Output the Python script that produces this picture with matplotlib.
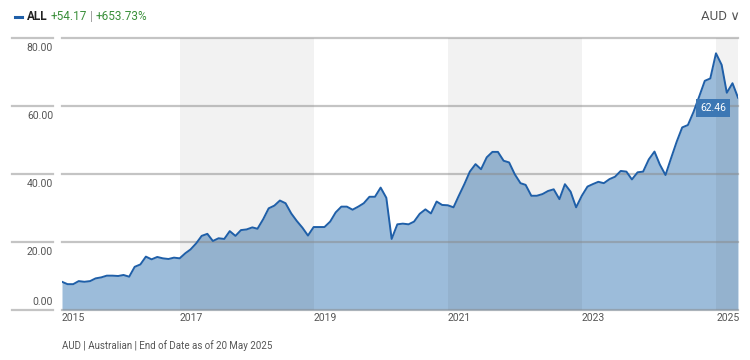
import numpy as np
import pandas as pd
import matplotlib.pyplot as plt

plt.rcParams['font.family'] = ['Roboto', 'DejaVu Sans']

# month-end values, Mar 2015 .. Apr 2025
values = [
    8.3, 7.6, 7.6, 8.5, 8.3, 8.5, 9.3, 9.6, 10.1, 10.1, 10.0, 10.3,
    9.8, 12.7, 13.4, 15.7, 14.9, 15.6, 15.2, 15.0, 15.4, 15.2,
    16.7, 17.8, 19.6, 21.8, 22.4, 20.3, 21.1, 20.9, 23.2, 21.8, 23.5, 23.7,
    24.3, 23.9, 26.7, 29.9, 30.7, 32.2, 31.4, 28.4, 26.2,
    24.2, 21.9, 24.4, 24.4, 24.4, 26.0, 28.7, 30.4, 30.4, 29.5, 30.4, 31.4,
    33.3, 33.3, 36.0, 33.0, 20.9, 25.2, 25.4, 25.2, 26.0, 28.3,
    29.6, 28.4, 31.9, 30.9, 30.8, 30.2, 33.5, 37.0, 40.7, 42.9, 41.4, 44.9,
    46.5, 46.5, 43.9, 43.4, 39.9, 37.3, 36.8, 33.6, 33.6,
    34.1, 35.0, 35.5, 32.6, 37.0, 34.8, 30.2, 33.6, 36.3, 37.0, 37.7, 37.3,
    38.5, 39.2, 40.9, 40.7, 38.4, 40.5, 40.7, 44.3, 46.6, 42.8,
    39.7, 44.6, 49.5, 53.7, 54.4, 58.3, 62.7, 67.4, 68.1, 75.5, 72.1, 63.9,
    66.7, 62.46,
]
dates = pd.date_range('2015-03-31', periods=len(values), freq='ME')

y_ticks = [0, 20, 40, 60, 80]
y_labels = ['0.00', '20.00', '40.00', '60.00', '80.00']
year_labels = ['2015', '2017', '2019', '2021', '2023', '2025']
shade_spans = [('2017-01-01', '2019-01-01'), ('2021-01-01', '2023-01-01'), ('2025-01-01', None)]
header = [('ALL', '#222222', 'bold'), ('+54.17', '#3a8f3a', 'normal'),
          ('|', '#999999', 'normal'), ('+653.73%', '#3a8f3a', 'normal')]

line_col = '#1f5fa8'
fill_col = '#9cbcda'
grid_col = '#c4c4c4'
text_col = '#555555'

fig = plt.figure(figsize=(7.5, 3.6), dpi=100)
ax = fig.add_axes([62 / 750, 1 - 310 / 360, 676 / 750, 272 / 360])

x0, x1 = dates[0], dates[-1]
ax.set_xlim(x0, x1)
ax.set_ylim(0, 80)

ax.fill_between(dates, values, 0, color=fill_col, lw=0, zorder=1)
for a, b in shade_spans:
    b = x1 if b is None else pd.Timestamp(b)
    ax.axvspan(pd.Timestamp(a), b, color='black', alpha=0.052, lw=0, zorder=2)
for v in y_ticks:
    ax.axhline(v, color='#8a8a8a', alpha=0.5, lw=1.6, zorder=3, clip_on=False)
    ax.plot([-50 / 676, -9 / 676], [v, v], transform=ax.get_yaxis_transform(),
            color=grid_col, lw=1.6, clip_on=False)
ax.plot(dates, values, color=line_col, lw=1.4, zorder=4)

for v, lab in zip(y_ticks, y_labels):
    off = 6 if v == 0 else -7
    ax.annotate(lab, (-9 / 676, v), xycoords=ax.get_yaxis_transform(),
                xytext=(0, off), textcoords='offset points', ha='right', va='center',
                fontsize=7.5, color=text_col)

for lab in year_labels:
    xp = x0 if lab == '2015' else pd.Timestamp(lab + '-01-01')
    ax.annotate(lab, (xp, 0), xytext=(0, -6), textcoords='offset points',
                ha='left', va='center', fontsize=7.5, color=text_col,
                annotation_clip=False)

# last value tag
ax.annotate(f'{values[-1]:.2f}', (x1, values[-1]), xytext=(-18, -7.5), textcoords='offset points',
            ha='center', va='center', fontsize=7.5, color='white', zorder=6,
            bbox=dict(boxstyle='square,pad=0.35', fc='#3c77b4', ec='none'))

ax.set_xticks([])
ax.set_yticks([])
for s in ax.spines.values():
    s.set_visible(False)

# header, pieces chained left to right
fig.add_artist(plt.Line2D([15 / 750, 22 / 750], [1 - 17 / 360] * 2, color=line_col, lw=2.2))
renderer = fig.canvas.get_renderer()
xpix = 27
for txt, col, wt in header:
    t = fig.text(xpix / 750, 1 - 17 / 360, txt, fontsize=8.5, color=col, va='center', weight=wt)
    xpix = t.get_window_extent(renderer).x1 + 3
fig.text(740 / 750, 1 - 16 / 360, 'AUD \u2228', fontsize=9.5, color=text_col, va='center', ha='right')

fig.text(62 / 750, 1 - 346 / 360, 'AUD | Australian | End of Date as of 20 May 2025',
         fontsize=7, color=text_col, va='center')

fig.savefig('out.png', dpi=100)
